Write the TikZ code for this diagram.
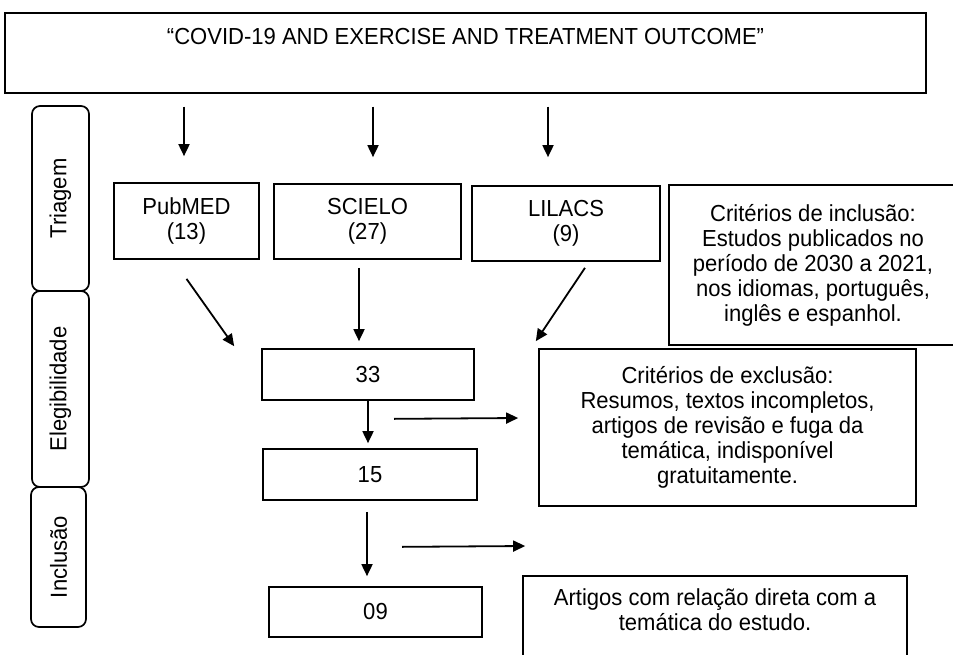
\documentclass[tikz,border=0pt]{standalone}
\usepackage{fontspec}
\setmainfont{Liberation Sans}[FakeStretch=0.95]
\usetikzlibrary{arrows.meta}

\tikzset{
  box/.style = {draw, line width=1.7pt, inner sep=0pt, align=center,
                font=\fontsize{23.2pt}{25pt}\selectfont},
  phase/.style = {box, rounded corners=8pt, rotate=90},
  arr/.style = {-{Triangle[length=12pt,width=11pt]}, line width=1.8pt}
}

\begin{document}
\begin{tikzpicture}[x = 1pt, y = -1pt]
        \useasboundingbox (0,0) rectangle (953,654);

        % search string
        \node[box, anchor = north, minimum width = 921pt, text height = 17pt,
              text depth = 34pt, inner ysep = 14.5pt] (top) at (465.5,12)
              {``COVID-19 AND EXERCISE AND TREATMENT OUTCOME''};

        % phases
        \node[phase, minimum width = 185pt, minimum height = 57pt] (tri) at (60.5,198.5) {Triagem};
        \node[phase, minimum width = 196pt, minimum height = 57pt] (ele) at (60.5,389) {Elegibilidade};
        \node[phase, minimum width = 140pt, minimum height = 55pt] (inc) at (58.5,557) {Inclusão};

        % data bases
        \node[box, minimum width = 145pt, minimum height = 76pt] (pub) at (186.5,221) {PubMED\\(13)};
        \node[box, minimum width = 187pt, minimum height = 75pt] (sci) at (367.5,221.5) {SCIELO\\(27)};
        \node[box, minimum width = 188pt, minimum height = 75pt] (lil) at (566,223.5) {LILACS\\(9)};

        \node[box, minimum width = 288pt, minimum height = 160pt] (crin) at (813,265)
              {Critérios de inclusão:\\Estudos publicados no\\período de 2030 a 2021,\\nos idiomas, português,\\inglês e espanhol.};

        % counts
        \node[box, minimum width = 212pt, minimum height = 51pt] (n33) at (368,374.5) {33};
        \node[box, minimum width = 214pt, minimum height = 51pt] (n15) at (370,474.5) {15};
        \node[box, minimum width = 213pt, minimum height = 50pt] (n09) at (375.5,612) {09};

        \node[box, minimum width = 377pt, minimum height = 157pt] (crex) at (727.5,427.5)
              {Critérios de exclusão:\\Resumos, textos incompletos,\\artigos de revisão e fuga da\\temática, indisponível\\gratuitamente.};
        \node[box, anchor = north, minimum width = 384pt, text height = 42pt,
              text depth = 40pt, inner ysep = 13pt] (art) at (715,575)
              {Artigos com relação direta com a\\temática do estudo.};

        % arrows
        \draw[arr] ([xshift=-2.5pt,yshift=-13pt]top.south -| pub.north) -- ([xshift=-2.5pt,yshift=26pt]pub.north);
        \draw[arr] ([xshift=5.5pt,yshift=-13pt]top.south -| sci.north) -- ([xshift=5.5pt,yshift=26pt]sci.north);
        \draw[arr] ([xshift=-18pt,yshift=-13pt]top.south -| lil.north) -- ([xshift=-18pt,yshift=28pt]lil.north);

        \draw[arr] ([yshift=-19pt]pub.south) -- ([xshift=-27pt,yshift=2pt]n33.north west);
        \draw[arr] ([xshift=-8.5pt,yshift=-8pt]sci.south) -- ([xshift=-9pt,yshift=7pt]n33.north);
        \draw[arr] ([xshift=19pt,yshift=-6pt]lil.south) -- ([xshift=61pt,yshift=7pt]n33.north east);

        \draw[arr] (n33.south) -- ([yshift=5pt]n15.north -| n33.south);
        \draw[arr] ([xshift=26pt,yshift=-18pt]n33.south) -- ([xshift=-20pt,yshift=9.5pt]crex.west);
        \draw[arr] ([xshift=-3pt,yshift=-11pt]n15.south) -- ([xshift=-8.5pt,yshift=10pt]n09.north);
        \draw[arr] ([xshift=32pt,yshift=-46pt]n15.south) -- ([xshift=3pt,yshift=29pt]art.north west);
\end{tikzpicture}
\end{document}
